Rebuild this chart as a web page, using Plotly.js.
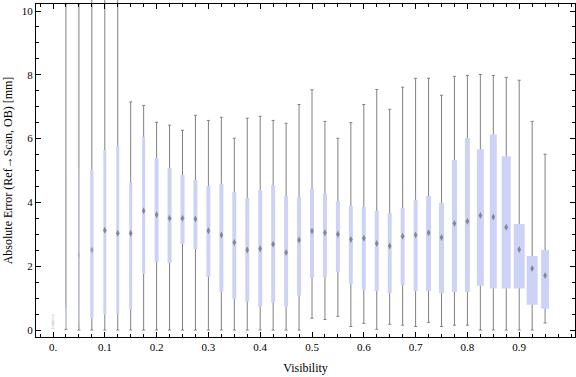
<!DOCTYPE html>
<html>
<head>
<meta charset="utf-8">
<script src="https://cdn.plot.ly/plotly-3.0.1.min.js"></script>
<style>
html,body{margin:0;padding:0;background:#fff;}
#chart{width:576px;height:377px;}
</style>
</head>
<body>
<div id="chart"></div>
<script>
// ---- data ----
const visibility = [0, 0.025, 0.05, 0.075, 0.1, 0.125, 0.15, 0.175, 0.2, 0.225,
  0.25, 0.275, 0.3, 0.325, 0.35, 0.375, 0.4, 0.425, 0.45, 0.475,
  0.5, 0.525, 0.55, 0.575, 0.6, 0.625, 0.65, 0.675, 0.7, 0.725,
  0.75, 0.775, 0.8, 0.825, 0.85, 0.875, 0.9, 0.925, 0.95];
const lowerWhisker = [0.05, 0.02, 0.00, 0.00, 0.00, 0.00, 0.00, 0.00, 0.00, 0.00,
  0.00, 0.00, 0.00, 0.00, 0.00, 0.00, 0.00, 0.00, 0.00, 0.00,
  0.37, 0.33, 0.43, 0.11, 0.21, 0.02, 0.18, 0.15, 0.11, 0.24,
  0.11, 0.15, 0.15, 0.00, 0.00, 0.00, 0.00, 0.00, 0.22];
const q1 = [0.12, 0.05, 0.23, 0.37, 0.49, 0.50, 0.63, 1.76, 2.13, 2.10,
  2.70, 2.54, 1.67, 1.20, 0.98, 0.89, 0.73, 0.86, 0.73, 1.08,
  1.64, 1.66, 1.82, 1.45, 1.25, 1.22, 1.16, 1.41, 1.22, 1.22,
  1.16, 1.19, 1.19, 1.39, 1.30, 1.30, 1.30, 0.79, 0.67];
const median = [0.23, 0.30, 2.35, 2.51, 3.13, 3.03, 3.03, 3.74, 3.61, 3.50,
  3.50, 3.48, 3.11, 2.98, 2.74, 2.51, 2.55, 2.69, 2.43, 2.82,
  3.10, 3.05, 3.00, 2.84, 2.88, 2.71, 2.63, 2.94, 2.98, 3.05,
  2.90, 3.34, 3.41, 3.59, 3.54, 3.22, 2.52, 1.93, 1.71];
const q3 = [0.38, 0.68, 5.07, 5.02, 5.64, 5.78, 4.61, 6.06, 5.39, 5.08,
  4.86, 4.70, 4.51, 4.58, 4.32, 4.14, 4.39, 4.54, 4.19, 4.16,
  4.41, 4.28, 4.04, 3.89, 3.86, 3.73, 3.67, 3.82, 4.08, 4.20,
  3.98, 5.33, 6.02, 5.67, 6.13, 5.45, 3.32, 2.32, 2.51];
const upperWhisker = [0.47, 10.22, 10.22, 12, 12, 12, 7.15, 7.04, 6.51, 6.42,
  6.26, 6.73, 6.57, 6.67, 6.01, 6.64, 6.70, 6.57, 6.48, 7.07,
  7.53, 6.54, 6.01, 6.50, 7.07, 7.54, 6.92, 7.61, 7.89, 7.89,
  7.36, 7.95, 7.98, 8.01, 7.98, 7.92, 7.83, 6.54, 5.51];
const xTickVals = [0, 0.1, 0.2, 0.3, 0.4, 0.5, 0.6, 0.7, 0.8, 0.9];
const xTickText = ['0.', '0.1', '0.2', '0.3', '0.4', '0.5', '0.6', '0.7', '0.8', '0.9'];
const yTickVals = [0, 2, 4, 6, 8, 10];
const yTickText = ['0', '2', '4', '6', '8', '10'];

// ---- styles ----
const boxWidthPx = [4, 1.5, 1.5, 3.3, 3, 3, 3, 3, 4, 4,
  4, 4, 4, 4, 4, 4, 4, 4, 4, 4,
  4, 4, 4, 4, 4, 4, 4, 4, 4, 5,
  5, 5, 5, 7, 7, 9, 11, 11, 8];
const boxOpacity = visibility.map((v, i) => i === 0 ? 0.12 : (i === 1 ? 0.85 : (i === 2 ? 0.45 : 1)));
const medOpacity = visibility.map((v, i) => i === 0 ? 0.12 : (i === 1 ? 0 : (i === 2 ? 0.12 : (i === 3 ? 0.45 : 0.7))));
const pxPerUnitX = 518, pxPerUnitY = 31.9;
const xRange = [(36 - 53) / pxPerUnitX, (575 - 53) / pxPerUnitX];
const yRangeFull = [-7 / pxPerUnitY, 330 / pxPerUnitY];
const yRangeFrame = [-7 / pxPerUnitY, 326 / pxPerUnitY];
const serif = 'Liberation Serif, Times New Roman, serif';

function whisker(idx, color) {
  return {
    type: 'scatter', mode: 'markers', xaxis: 'x', yaxis: 'y',
    x: idx.map(i => visibility[i]), y: idx.map(i => lowerWhisker[i]),
    marker: {size: 1, color: 'rgba(0,0,0,0)'},
    error_y: {type: 'data', symmetric: false,
      array: idx.map(i => upperWhisker[i] - lowerWhisker[i]),
      arrayminus: idx.map(() => 0),
      color: color, thickness: 1, width: 1.5},
    hoverinfo: 'skip', showlegend: false
  };
}
const allIdx = visibility.map((v, i) => i);
const traces = [
  whisker([0], 'rgba(128,128,128,0.25)'),
  whisker(allIdx.slice(1), 'rgb(128,128,128)'),
  {
    type: 'bar', xaxis: 'x2', yaxis: 'y2',
    x: visibility, base: q1, y: q3.map((v, i) => v - q1[i]),
    width: boxWidthPx.map(w => w / pxPerUnitX),
    marker: {color: 'rgb(205,211,247)', opacity: boxOpacity, line: {width: 0}},
    showlegend: false
  },
  {
    type: 'scatter', mode: 'markers', xaxis: 'x2', yaxis: 'y2',
    x: visibility, y: median,
    marker: {symbol: 'diamond-tall', size: 5, color: 'rgb(100,100,100)', opacity: medOpacity, line: {width: 0}},
    showlegend: false
  }
];

const layout = {
  width: 576, height: 377,
  margin: {l: 36, r: 1, t: 0, b: 40, pad: 0},
  paper_bgcolor: '#ffffff', plot_bgcolor: 'rgba(0,0,0,0)',
  showlegend: false, barmode: 'overlay',
  font: {family: serif, size: 11, color: '#000'},
  xaxis: {domain: [0, 1], range: xRange, visible: false, fixedrange: true},
  yaxis: {domain: [0, 1], range: yRangeFull, visible: false, fixedrange: true},
  xaxis2: {
    domain: [0, 1], anchor: 'y2', range: xRange,
    showline: true, linecolor: '#000', linewidth: 1, mirror: 'ticks',
    showgrid: false, zeroline: false,
    ticks: 'inside', ticklen: 5, tickcolor: '#000', tickwidth: 1,
    tickmode: 'array', tickvals: xTickVals, ticktext: xTickText,
    tickfont: {family: serif, size: 11, color: '#000'},
    minor: {dtick: 0.025, tick0: 0, ticks: 'inside', ticklen: 3, tickcolor: '#000', showgrid: false},
    title: {text: 'Visibility', font: {family: serif, size: 12, color: '#000'}, standoff: 11}
  },
  yaxis2: {
    domain: [0, 333 / 337], anchor: 'x2', range: yRangeFrame,
    showline: true, linecolor: '#000', linewidth: 1, mirror: 'ticks',
    showgrid: false, zeroline: false,
    ticks: 'inside', ticklen: 5, tickcolor: '#000', tickwidth: 1,
    tickmode: 'array', tickvals: yTickVals, ticktext: yTickText,
    tickfont: {family: serif, size: 11, color: '#000'},
    minor: {dtick: 0.5, tick0: 0, ticks: 'inside', ticklen: 3, tickcolor: '#000', showgrid: false},
    title: {text: 'Absolute Error (Ref→Scan, OB) [mm]', font: {family: serif, size: 12, color: '#000'}, standoff: 6}
  }
};

Plotly.newPlot('chart', traces, layout, {staticPlot: true, displayModeBar: false});
</script>
</body>
</html>
